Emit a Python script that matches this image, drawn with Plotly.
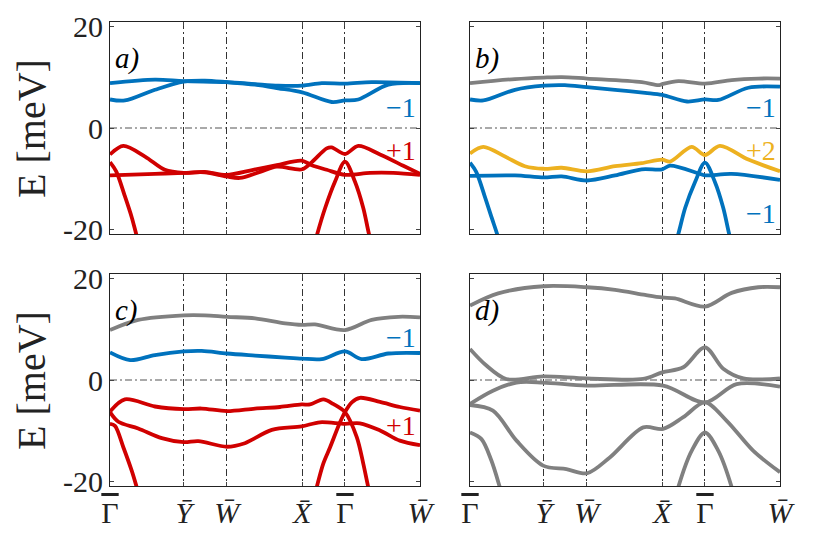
import plotly.graph_objects as go
from plotly.subplots import make_subplots

# high-symmetry points along the path (fraction of path length)
k_ticks = [0, 0.238, 0.377, 0.620, 0.758, 1.0]
k_names = ['<span style="text-decoration:overline">\u0393</span>', "<i>Y\u0304</i>", "<i>W\u0304</i>",
           "<i>X\u0304</i>", '<span style="text-decoration:overline">\u0393</span>', "<i>W\u0304</i>"]
e_ticks = [-20, 0, 20]
e_names = ["-20", "0", "20"]

# colours
BLUE = "#0072BD"
RED = "#D00000"
YELLOW = "#EDB120"
GRAY = "#808080"

# ---- panel a ----
a_blue1_k = [0, 0.145, 0.238, 0.377, 0.468, 0.543, 0.620, 0.683, 0.758, 0.844, 1.0]
a_blue1_E = [8.8, 9.5, 9.2, 9.0, 8.6, 8.3, 8.3, 8.8, 8.7, 9.0, 8.8]
a_blue2_k = [0, 0.048, 0.145, 0.238, 0.306, 0.377, 0.468, 0.543, 0.620, 0.715, 0.758, 0.801, 0.898, 1.0]
a_blue2_E = [5.6, 5.4, 7.5, 9.1, 9.3, 9.0, 8.5, 7.8, 7.0, 5.1, 5.4, 5.6, 8.5, 8.8]
a_red1_k = [0, 0.043, 0.113, 0.177, 0.238, 0.306, 0.376, 0.462, 0.538, 0.618, 0.651, 0.699, 0.758, 0.839, 0.914, 1.0]
a_red1_E = [-5.2, -3.5, -5.6, -8.2, -8.8, -8.6, -9.2, -8.2, -7.3, -6.4, -7.3, -8.2, -9.2, -8.8, -8.8, -9.2]
a_red2_k = [0, 0.145, 0.238, 0.306, 0.376, 0.419, 0.484, 0.538, 0.620, 0.651, 0.699, 0.715, 0.758, 0.801, 0.871, 0.946, 1.0]
a_red2_E = [-9.3, -9.0, -8.8, -8.7, -9.5, -9.8, -8.6, -7.6, -8.1, -6.7, -4.0, -3.8, -5.1, -3.5, -5.2, -7.4, -9.0]
a_red3_k = [0, 0.02, 0.047, 0.07, 0.085, 0.1]
a_red3_E = [-6.7, -8.5, -13.2, -17.5, -20.9, -24.0]
a_red4_k = [0.655, 0.669, 0.694, 0.726, 0.758, 0.790, 0.817, 0.835, 0.849]
a_red4_E = [-24.0, -20.7, -15.7, -10.5, -6.6, -10.5, -15.7, -20.7, -24.0]

# ---- panel b ----
b_gray_k = [0, 0.145, 0.238, 0.296, 0.377, 0.554, 0.608, 0.620, 0.672, 0.758, 0.844, 0.930, 1.0]
b_gray_E = [8.8, 9.6, 9.9, 10.0, 9.7, 9.0, 8.4, 8.6, 9.2, 8.7, 9.4, 9.7, 9.7]
b_blue1_k = [0, 0.043, 0.145, 0.238, 0.306, 0.377, 0.468, 0.565, 0.620, 0.700, 0.758, 0.801, 0.898, 1.0]
b_blue1_E = [5.6, 5.4, 7.5, 8.3, 8.4, 8.0, 7.5, 6.9, 6.5, 5.2, 5.6, 5.5, 7.9, 8.1]
b_yel_k = [0, 0.043, 0.113, 0.177, 0.238, 0.296, 0.377, 0.468, 0.554, 0.620, 0.645, 0.715, 0.758, 0.806, 0.898, 1.0]
b_yel_E = [-5.0, -3.7, -5.6, -7.5, -8.0, -7.8, -8.5, -7.5, -6.9, -6.2, -6.6, -3.7, -5.3, -3.5, -6.2, -8.5]
b_blue2_k = [0, 0.145, 0.238, 0.296, 0.377, 0.468, 0.554, 0.620, 0.645, 0.737, 0.758, 0.844, 1.0]
b_blue2_E = [-9.4, -9.3, -9.7, -9.5, -10.3, -9.3, -8.1, -8.1, -7.4, -8.9, -9.3, -9.0, -10.2]
b_blue3_k = [0, 0.02, 0.047, 0.07, 0.088, 0.1]
b_blue3_E = [-6.8, -8.6, -13.3, -17.6, -20.9, -23.5]
b_blue4_k = [0.655, 0.672, 0.694, 0.726, 0.758, 0.790, 0.817, 0.836, 0.850]
b_blue4_E = [-24.0, -20.8, -15.7, -10.6, -6.8, -10.6, -15.7, -20.8, -24.0]

# ---- panel c ----
c_gray_k = [0, 0.091, 0.238, 0.306, 0.377, 0.468, 0.565, 0.620, 0.661, 0.758, 0.844, 0.930, 1.0]
c_gray_E = [9.8, 11.8, 12.7, 12.7, 12.4, 12.1, 11.1, 10.8, 10.9, 9.8, 11.8, 12.4, 12.3]
c_blue_k = [0, 0.065, 0.145, 0.238, 0.296, 0.377, 0.468, 0.565, 0.620, 0.683, 0.758, 0.812, 0.898, 1.0]
c_blue_E = [5.4, 3.9, 4.9, 5.6, 5.7, 5.2, 4.8, 4.4, 4.2, 4.1, 5.6, 4.1, 5.2, 5.3]
c_red1_k = [0, 0.048, 0.145, 0.238, 0.296, 0.377, 0.468, 0.548, 0.618, 0.645, 0.688, 0.720, 0.758, 0.796, 0.817, 0.833, 0.845]
c_red1_E = [-6.2, -3.8, -5.2, -5.7, -5.6, -6.1, -5.6, -5.3, -4.8, -4.8, -3.8, -4.7, -6.3, -11.2, -16.4, -21.0, -24.0]
c_red2_k = [0.655, 0.667, 0.688, 0.710, 0.742, 0.758, 0.780, 0.806, 0.871, 0.935, 1.0]
c_red2_E = [-24.0, -21.0, -16.4, -13.2, -8.3, -6.3, -4.4, -3.5, -4.3, -5.3, -6.0]
c_red3_k = [0, 0.027, 0.091, 0.167, 0.238, 0.285, 0.377, 0.435, 0.522, 0.618, 0.677, 0.758, 0.806, 0.871, 0.935, 1.0]
c_red3_E = [-6.3, -8.2, -9.5, -11.4, -12.2, -12.0, -13.1, -12.4, -9.8, -9.1, -8.3, -8.6, -8.5, -9.9, -11.9, -12.8]
c_red4_k = [0, 0.016, 0.043, 0.070, 0.086, 0.1]
c_red4_E = [-8.6, -9.0, -13.2, -17.8, -21.0, -24.0]

# ---- panel d ----
d_1_k = [0, 0.091, 0.238, 0.377, 0.468, 0.565, 0.620, 0.661, 0.758, 0.844, 0.930, 1.0]
d_1_E = [14.6, 17.0, 18.4, 18.2, 17.7, 16.7, 16.2, 16.0, 14.4, 17.1, 18.2, 18.2]
d_2_k = [0, 0.05, 0.117, 0.236, 0.376, 0.559, 0.620, 0.688, 0.758, 0.817, 0.882, 1.0]
d_2_E = [6.1, 3.0, 0.2, 0.7, 0.3, 0.2, 1.5, 2.5, 6.4, 2.2, 0.3, 0.3]
d_3_k = [0, 0.074, 0.150, 0.236, 0.376, 0.623, 0.758, 0.860, 1.0]
d_3_E = [-4.7, -2.1, -0.5, -0.5, -1.1, -1.1, -4.4, -0.8, -1.3]
d_4_k = [0, 0.074, 0.150, 0.236, 0.311, 0.378, 0.451, 0.559, 0.623, 0.688, 0.758, 0.828, 0.914, 1.0]
d_4_E = [-4.9, -6.0, -11.9, -16.8, -17.5, -18.3, -15.2, -9.3, -9.6, -7.3, -4.4, -8.0, -13.9, -18.1]
d_5_k = [0, 0.037, 0.069, 0.096, 0.11]
d_5_E = [-10.3, -11.6, -15.8, -21.0, -24.0]
d_6_k = [0.660, 0.672, 0.715, 0.758, 0.801, 0.844, 0.856]
d_6_E = [-24.0, -21.0, -13.9, -10.3, -13.9, -21.0, -24.0]

panels = {
    (1, 1): [(a_blue1_k, a_blue1_E, BLUE), (a_blue2_k, a_blue2_E, BLUE),
             (a_red1_k, a_red1_E, RED), (a_red2_k, a_red2_E, RED),
             (a_red3_k, a_red3_E, RED), (a_red4_k, a_red4_E, RED)],
    (1, 2): [(b_gray_k, b_gray_E, GRAY), (b_blue1_k, b_blue1_E, BLUE),
             (b_yel_k, b_yel_E, YELLOW), (b_blue2_k, b_blue2_E, BLUE),
             (b_blue3_k, b_blue3_E, BLUE), (b_blue4_k, b_blue4_E, BLUE)],
    (2, 1): [(c_gray_k, c_gray_E, GRAY), (c_blue_k, c_blue_E, BLUE),
             (c_red1_k, c_red1_E, RED), (c_red2_k, c_red2_E, RED),
             (c_red3_k, c_red3_E, RED), (c_red4_k, c_red4_E, RED)],
    (2, 2): [(d_1_k, d_1_E, GRAY), (d_2_k, d_2_E, GRAY), (d_3_k, d_3_E, GRAY),
             (d_4_k, d_4_E, GRAY), (d_5_k, d_5_E, GRAY), (d_6_k, d_6_E, GRAY)],
}

# panel letters and Chern-number labels: (text, E position, colour)
letters = {(1, 1): "a)", (1, 2): "b)", (2, 1): "c)", (2, 2): "d)"}
chern = {
    (1, 1): [("\u22121", 4.1, BLUE), ("+1", -4.4, RED)],
    (1, 2): [("\u22121", 4.1, BLUE), ("+2", -4.4, YELLOW), ("\u22121", -16.7, BLUE)],
    (2, 1): [("\u22121", 8.3, BLUE), ("+1", -9.0, RED)],
    (2, 2): [],
}

SERIF = "Liberation Serif, Times New Roman, DejaVu Serif, serif"
DASHDOT = "7px,3px,2px,3px"

fig = make_subplots(rows=2, cols=2, horizontal_spacing=50 / 670, vertical_spacing=40 / 464)

for (r, c), bands in panels.items():
    for k, E, col in bands:
        fig.add_trace(go.Scatter(x=k, y=E, mode="lines",
                                 line=dict(color=col, width=3.8, shape="spline", smoothing=0.9),
                                 showlegend=False, hoverinfo="skip"), row=r, col=c)
    fig.add_hline(y=0, row=r, col=c, layer="below",
                  line=dict(color="#555555", width=1.2, dash=DASHDOT))
    n = (r - 1) * 2 + c
    ax = "" if n == 1 else str(n)
    fig.add_annotation(x=0.01, y=13.6, xref="x" + ax, yref="y" + ax, text="<i>" + letters[(r, c)] + "</i>",
                       showarrow=False, xanchor="left", yanchor="middle",
                       font=dict(family=SERIF, size=29, color="black"))
    for txt, e, col in chern[(r, c)]:
        fig.add_annotation(x=0.995, y=e, xref="x" + ax, yref="y" + ax, text=txt,
                           showarrow=False, xanchor="right", yanchor="middle",
                           font=dict(family=SERIF, size=28, color=col))

for r in (1, 2):
    for c in (1, 2):
        fig.update_xaxes(range=[0, 1], tickvals=k_ticks, ticktext=k_names, automargin=False,
                         showticklabels=(r == 2), ticks="inside", ticklen=4,
                         showgrid=True, gridcolor="#333333", gridwidth=1, griddash=DASHDOT,
                         showline=True, linecolor="#222222", linewidth=1, mirror="ticks",
                         zeroline=False, tickfont=dict(family=SERIF, size=30, color="#222222"),
                         row=r, col=c)
        fig.update_yaxes(range=[-20.8, 20.8], tickvals=e_ticks, ticktext=e_names, automargin=False,
                         showticklabels=(c == 1), ticks="inside", ticklen=4,
                         showgrid=False, zeroline=False,
                         showline=True, linecolor="#222222", linewidth=1, mirror="ticks",
                         tickfont=dict(family=SERIF, size=30, color="#222222"),
                         row=r, col=c)

for yref in ("y domain", "y3 domain"):
    fig.add_annotation(x=-0.118, y=0.5, xref="paper", yref=yref, text="E [meV]",
                       textangle=-90, showarrow=False, xanchor="center", yanchor="middle",
                       font=dict(family=SERIF, size=40, color="#222222"))

# page body adds 8px around the figure, so the figure is made 8px smaller
fig.update_layout(width=812, height=533, plot_bgcolor="white", paper_bgcolor="white",
                  margin=dict(l=102, r=40, t=14, b=55))

fig.write_html("out.html")
